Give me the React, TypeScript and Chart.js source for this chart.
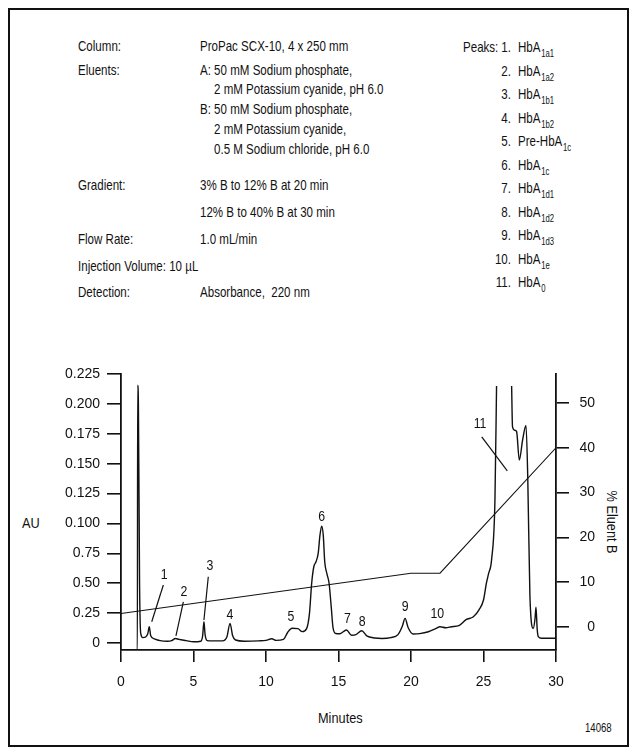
import React, { useEffect, useRef } from "react";
import { Chart, registerables } from "chart.js";
Chart.register(...registerables);

const FONT = '"Liberation Sans", Arial, "DejaVu Sans Condensed", sans-serif';

// Chromatogram (minutes, AU)
const minutes = [
  0, 1.13, 1.15, 1.2, 1.28, 1.36, 1.5, 1.7, 1.85, 1.95, 2.05, 2.3, 2.7, 3.2, 3.5, 3.75, 4.0, 4.5, 5.0, 5.5,
  5.63, 5.72, 5.8, 5.95, 6.3, 7.0, 7.3, 7.52, 7.7, 7.9, 8.5, 9.5, 10.0, 10.4, 10.7, 11.2, 11.5, 11.8, 12.2,
  12.5, 12.8, 13.0, 13.15, 13.3, 13.45, 13.6, 13.72, 13.84, 13.95, 14.05, 14.2, 14.35, 14.5, 14.62, 14.8,
  15.1, 15.55, 15.9, 16.2, 16.6, 16.95, 17.5, 18.0, 18.6, 19.1, 19.4, 19.59, 19.8, 20.15, 20.6, 21.2, 21.7,
  22.0, 22.4, 22.8, 23.3, 23.8, 24.3, 24.7, 25.0, 25.2, 25.35, 25.56, 25.79, 25.9, 26.4, 26.94, 27.0, 27.15,
  27.28, 27.47, 27.7, 27.93, 28.05, 28.2, 28.43, 28.55, 28.62, 28.7, 28.78, 29.0, 30,
];
const absorbance = [
  -0.0058, -0.0058, 0.2157, 0.2, 0.05, 0.008, 0.0045, 0.005, 0.008, 0.0136, 0.006, 0.0035, 0.002, 0.0015,
  0.002, 0.0038, 0.003, 0.002, 0.001, 0.0015, 0.006, 0.0178, 0.007, 0.002, 0.0018, 0.0018, 0.005, 0.0164,
  0.006, 0.0025, 0.0015, 0.0018, 0.0022, 0.0036, 0.0022, 0.003, 0.009, 0.0123, 0.012, 0.0095, 0.012, 0.025,
  0.05, 0.064, 0.068, 0.075, 0.09, 0.0978, 0.09, 0.068, 0.058, 0.05, 0.03, 0.013, 0.008, 0.0078, 0.0109,
  0.0065, 0.007, 0.0103, 0.006, 0.0042, 0.0038, 0.0045, 0.007, 0.014, 0.0206, 0.013, 0.0075, 0.0078, 0.0094,
  0.012, 0.0136, 0.0128, 0.0136, 0.0145, 0.0195, 0.022, 0.028, 0.036, 0.05, 0.058, 0.07, 0.12, 0.215, null,
  0.215, 0.181, 0.178, 0.177, 0.153, 0.17, 0.182, 0.14, 0.04, 0.0123, 0.02, 0.03, 0.012, 0.0053, 0.004, 0.004,
];

// Gradient (% Eluent B)
const gradientMinutes = [0, 20, 22, 30];
const gradientPercentB = [3, 12, 12, 40];

// Axes
const auTickValues = [0, 0.025, 0.05, 0.075, 0.1, 0.125, 0.15, 0.175, 0.2, 0.225];
const auTickLabels = ["0", "0.25", "0.50", "0.75", "0.100", "0.125", "0.150", "0.175", "0.200", "0.225"];
const eluentTickValues = [0, 10, 20, 30, 40, 50];
const minuteTickValues = [0, 5, 10, 15, 20, 25, 30];

// Peak labels (anchored in data coordinates)
const peakNumbers = ["1", "2", "3", "4", "5", "6", "7", "8", "9", "10", "11"];
const peakLabelMinutes = [2.97, 4.34, 6.14, 7.52, 11.72, 13.84, 15.61, 16.64, 19.59, 21.81, 24.76];
const peakLabelAU = [0.0568, 0.0426, 0.0644, 0.0234, 0.022, 0.1056, 0.0198, 0.0178, 0.0303, 0.0242, 0.1837];
const leaderFromMinutes = [2.92, 4.3, 6.02, 24.88];
const leaderFromAU = [0.0485, 0.0345, 0.0554, 0.1725];
const leaderToMinutes = [2.12, 3.79, 5.72, 26.64];
const leaderToAU = [0.0178, 0.0059, 0.0192, 0.144];

// Text block
const conditionLabels = ["Column:", "Eluents:", "", "", "", "", "Gradient:", "", "Flow Rate:", "Injection Volume: 10 µL", "Detection:"];
const conditionValues = [
  "ProPac SCX-10, 4 x 250 mm",
  "A: 50 mM Sodium phosphate,",
  "2 mM Potassium cyanide, pH 6.0",
  "B: 50 mM Sodium phosphate,",
  "2 mM Potassium cyanide,",
  "0.5 M Sodium chloride, pH 6.0",
  "3% B to 12% B at 20 min",
  "12% B to 40% B at 30 min",
  "1.0 mL/min",
  "",
  "Absorbance,  220 nm",
];
const conditionIndented = [false, false, true, false, true, true, false, false, false, false, false];
const conditionRowY = [46, 70, 89, 109, 129, 149, 185, 212, 239, 266, 292];
const peakNames = ["HbA", "HbA", "HbA", "HbA", "Pre-HbA", "HbA", "HbA", "HbA", "HbA", "HbA", "HbA"];
const peakSubscripts = ["1a1", "1a2", "1b1", "1b2", "1c", "1c", "1d1", "1d2", "1d3", "1e", "0"];
const peakRowY = [47, 70.5, 94, 117.5, 141, 164.5, 188, 211.5, 235, 258.5, 282];

const SX = 0.77;
const txt = (left: number, centerY: number, extra: any = {}) => ({
  position: "absolute" as const,
  left: left - 10,
  top: centerY - 9 - 10,
  whiteSpace: "pre" as const,
  fontFamily: FONT,
  fontSize: 15,
  lineHeight: "18px",
  color: "#111",
  transform: `scaleX(${SX})`,
  transformOrigin: "left center",
  ...extra,
});

export default function App() {
  const ref = useRef<HTMLCanvasElement | null>(null);

  useEffect(() => {
    const canvas = ref.current;
    if (!canvas) return;

    const peakLabelPlugin = {
      id: "peakLabels",
      afterDatasetsDraw(chart: any) {
        const { ctx, scales } = chart;
        const x = scales.x;
        const y = scales.y;
        ctx.save();
        ctx.fillStyle = "#111";
        ctx.font = `15px ${FONT}`;
        ctx.textAlign = "center";
        ctx.textBaseline = "middle";
        peakNumbers.forEach((n, i) => {
          const px = x.getPixelForValue(peakLabelMinutes[i]);
          const py = y.getPixelForValue(peakLabelAU[i]);
          ctx.save();
          ctx.translate(px, py);
          ctx.scale(0.82, 1);
          ctx.fillText(n, 0, 0);
          ctx.restore();
        });
        ctx.strokeStyle = "#111";
        ctx.lineWidth = 1.2;
        leaderFromMinutes.forEach((m, i) => {
          ctx.beginPath();
          ctx.moveTo(x.getPixelForValue(m), y.getPixelForValue(leaderFromAU[i]));
          ctx.lineTo(x.getPixelForValue(leaderToMinutes[i]), y.getPixelForValue(leaderToAU[i]));
          ctx.stroke();
        });
        ctx.restore();
      },
    };

    const tickFont = { family: FONT, size: 14 };

    const chart = new Chart(canvas, {
      type: "line",
      data: {
        datasets: [
          {
            label: "AU",
            data: minutes.map((m, i) => ({ x: m, y: absorbance[i] })),
            borderColor: "#111",
            borderWidth: 1.4,
            pointRadius: 0,
            cubicInterpolationMode: "monotone",
            spanGaps: false,
            yAxisID: "y",
          },
          {
            label: "% Eluent B",
            data: gradientMinutes.map((m, i) => ({ x: m, y: gradientPercentB[i] })),
            borderColor: "#111",
            borderWidth: 1.1,
            pointRadius: 0,
            tension: 0,
            yAxisID: "y1",
          },
        ],
      },
      options: {
        animation: false,
        responsive: false,
        events: [],
        layout: { padding: { top: 34, left: 0, right: 32, bottom: 0 } },
        plugins: { legend: { display: false }, tooltip: { enabled: false } },
        scales: {
          x: {
            type: "linear",
            min: 0,
            max: 30,
            afterBuildTicks: (s: any) => {
              s.ticks = minuteTickValues.map((v) => ({ value: v }));
            },
            afterFit: (s: any) => {
              s.height = 95;
            },
            ticks: { font: tickFont, color: "#111", padding: 12, maxRotation: 0, autoSkip: false },
            grid: { drawOnChartArea: false, drawTicks: true, tickLength: 12, color: "#111", lineWidth: 1.6 },
            border: { display: true, color: "#111", width: 1.8 },
          },
          y: {
            type: "linear",
            position: "left",
            min: -0.00585,
            max: 0.225,
            afterBuildTicks: (s: any) => {
              s.ticks = auTickValues.map((v) => ({ value: v }));
            },
            afterFit: (s: any) => {
              s.width = 111;
            },
            ticks: {
              font: tickFont,
              color: "#111",
              padding: 7,
              autoSkip: false,
              callback: (v: any) => {
                const i = auTickValues.findIndex((t) => Math.abs(t - v) < 1e-9);
                return i >= 0 ? auTickLabels[i] : "";
              },
            },
            grid: { drawOnChartArea: false, drawTicks: true, tickLength: 14, color: "#111", lineWidth: 1.6 },
            border: { display: true, color: "#111", width: 1.8 },
          },
          y1: {
            type: "linear",
            position: "right",
            min: -5.134,
            max: 56.47,
            afterBuildTicks: (s: any) => {
              s.ticks = eluentTickValues.map((v) => ({ value: v }));
            },
            afterFit: (s: any) => {
              s.width = 39;
            },
            ticks: { font: tickFont, color: "#111", padding: 6, autoSkip: false, crossAlign: "far" },
            grid: { drawOnChartArea: false, drawTicks: true, tickLength: 13, color: "#111", lineWidth: 1.6 },
            border: { display: true, color: "#111", width: 1.8 },
          },
        },
      } as any,
      plugins: [peakLabelPlugin],
    });
    return () => chart.destroy();
  }, []);

  return (
    <div
      style={{
        position: "relative",
        width: 621,
        height: 739,
        boxSizing: "border-box",
        border: "2px solid #111",
        background: "#fff",
        overflow: "hidden",
      }}
    >
      {conditionLabels.map((t, i) =>
        t ? (
          <div key={"l" + i} style={txt(78, conditionRowY[i])}>
            {t}
          </div>
        ) : null
      )}
      {conditionValues.map((t, i) =>
        t ? (
          <div key={"v" + i} style={txt(conditionIndented[i] ? 214 : 200, conditionRowY[i])}>
            {t}
          </div>
        ) : null
      )}
      <div style={txt(463, peakRowY[0])}>Peaks:</div>
      {peakNames.map((name, i) => (
        <React.Fragment key={"p" + i}>
          <div style={txt(470, peakRowY[i], { width: 41, textAlign: "right", transformOrigin: "right center" })}>
            {`${i + 1}.`}
          </div>
          <div style={txt(518, peakRowY[i])}>
            {name}
            <span style={{ fontSize: 10, position: "relative", top: 5, marginLeft: 1 }}>{peakSubscripts[i]}</span>
          </div>
        </React.Fragment>
      ))}
      <div style={txt(22, 523, { transform: "scaleX(0.85)" })}>AU</div>
      <div
        style={{
          position: "absolute",
          left: 612 - 10 - 9,
          top: 522 - 10 - 40,
          height: 80,
          width: 18,
          display: "flex",
          alignItems: "center",
          justifyContent: "center",
          writingMode: "vertical-rl",
          fontFamily: FONT,
          fontSize: 15,
          lineHeight: "18px",
          whiteSpace: "pre",
          color: "#111",
          transform: "scaleY(0.85)",
        }}
      >
        % Eluent B
      </div>
      <div style={txt(318, 718, { transform: "scaleX(0.85)" })}>Minutes</div>
      <div style={txt(585, 728, { fontSize: 12, transform: "scaleX(0.8)" })}>14068</div>
      <canvas
        ref={ref}
        width={617}
        height={405}
        style={{ position: "absolute", left: 0, top: 330, width: 617, height: 405 }}
      />
    </div>
  );
}
